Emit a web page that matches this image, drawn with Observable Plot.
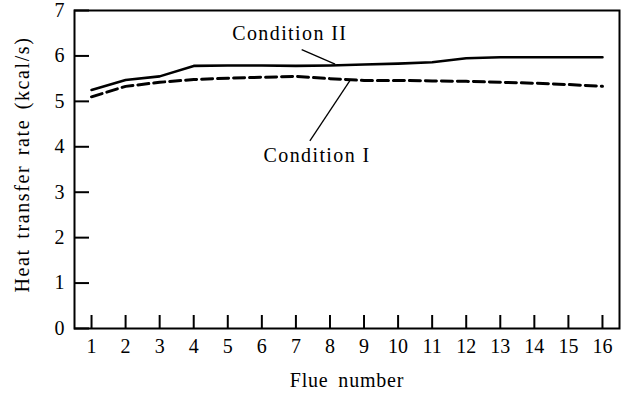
<!DOCTYPE html>
<html><head><meta charset="utf-8">
<script src="https://cdn.jsdelivr.net/npm/d3@7"></script>
<script src="https://cdn.jsdelivr.net/npm/@observablehq/plot@0.6"></script>
<style>
html,body{margin:0;padding:0;background:#fff}
#chart svg{font-family:"Liberation Serif",serif}
</style>
</head><body><div id="chart"></div>
<script>
const flue = [1,2,3,4,5,6,7,8,9,10,11,12,13,14,15,16];
const conditionII = [5.25,5.47,5.55,5.78,5.79,5.79,5.78,5.79,5.81,5.83,5.86,5.95,5.97,5.97,5.97,5.97];
const conditionI  = [5.10,5.33,5.42,5.48,5.51,5.53,5.55,5.50,5.46,5.46,5.45,5.44,5.42,5.40,5.37,5.33];
const yTicks = [0,1,2,3,4,5,6,7];
const xTicks = flue;
const xLabel = "Flue number";
const yLabel = "Heat transfer rate (kcal/s)";
const annotations = [
  {text: "Condition II", x: 6.82, y: 6.49, x1: 7.17, y1: 6.14, x2: 8.15, y2: 5.82},
  {text: "Condition I",  x: 7.62, y: 3.81, x1: 7.41, y1: 4.13, x2: 8.59, y2: 5.46}
];

const rows = flue.map((f, i) => ({flue: f, I: conditionI[i], II: conditionII[i]}));

const chart = Plot.plot({
  width: 630,
  height: 404,
  marginLeft: 74,
  marginRight: 11,
  marginTop: 10,
  marginBottom: 76,
  style: {fontFamily: "Liberation Serif, serif", fontSize: "20px", color: "black", background: "white"},
  x: {domain: [0.5, 16.5], axis: null},
  y: {domain: [0, 7], axis: null},
  marks: [
    Plot.frame({stroke: "black", strokeWidth: 2}),
    Plot.axisY(yTicks, {tickSize: -15, strokeWidth: 2, tickFormat: () => "", label: null}),
    Plot.axisY(yTicks, {tickSize: 0, tickPadding: 10, fontSize: 20, label: null}),
    Plot.axisX(xTicks, {tickSize: -13, strokeWidth: 2, tickFormat: () => "", label: null}),
    Plot.axisX(xTicks, {tickSize: 0, tickPadding: 10, fontSize: 20, label: null}),
    Plot.line(rows, {x: "flue", y: "II", stroke: "black", strokeWidth: 2.6}),
    Plot.line(rows, {x: "flue", y: "I", stroke: "black", strokeWidth: 3, strokeDasharray: "11,5"}),
    Plot.link(annotations, {x1: "x1", y1: "y1", x2: "x2", y2: "y2", stroke: "black", strokeWidth: 1.3}),
    Plot.text(annotations, {x: "x", y: "y", text: "text", fontSize: 20, textAnchor: "middle", lineAnchor: "middle", fill: "black"}),
    Plot.text([yLabel], {text: d => d, frameAnchor: "left", textAnchor: "middle", lineAnchor: "middle", rotate: -90, dx: -52, dy: -5, fontSize: 20, fill: "black"}),
    Plot.text([xLabel], {text: d => d, frameAnchor: "bottom", textAnchor: "middle", dy: 58, fontSize: 20, fill: "black"})
  ]
});
document.getElementById("chart").appendChild(chart);
const svg = d3.select(chart);
svg.selectAll("text").each(function() {
  const t = d3.select(this);
  const s = t.text();
  if (s === yLabel) t.style("letter-spacing", "1.6px").style("word-spacing", "3px");
  else if (s === xLabel) t.style("letter-spacing", "0.8px").style("word-spacing", "4px");
  else if (s.startsWith("Condition")) t.style("letter-spacing", "1.4px");
});
</script>
</body></html>
